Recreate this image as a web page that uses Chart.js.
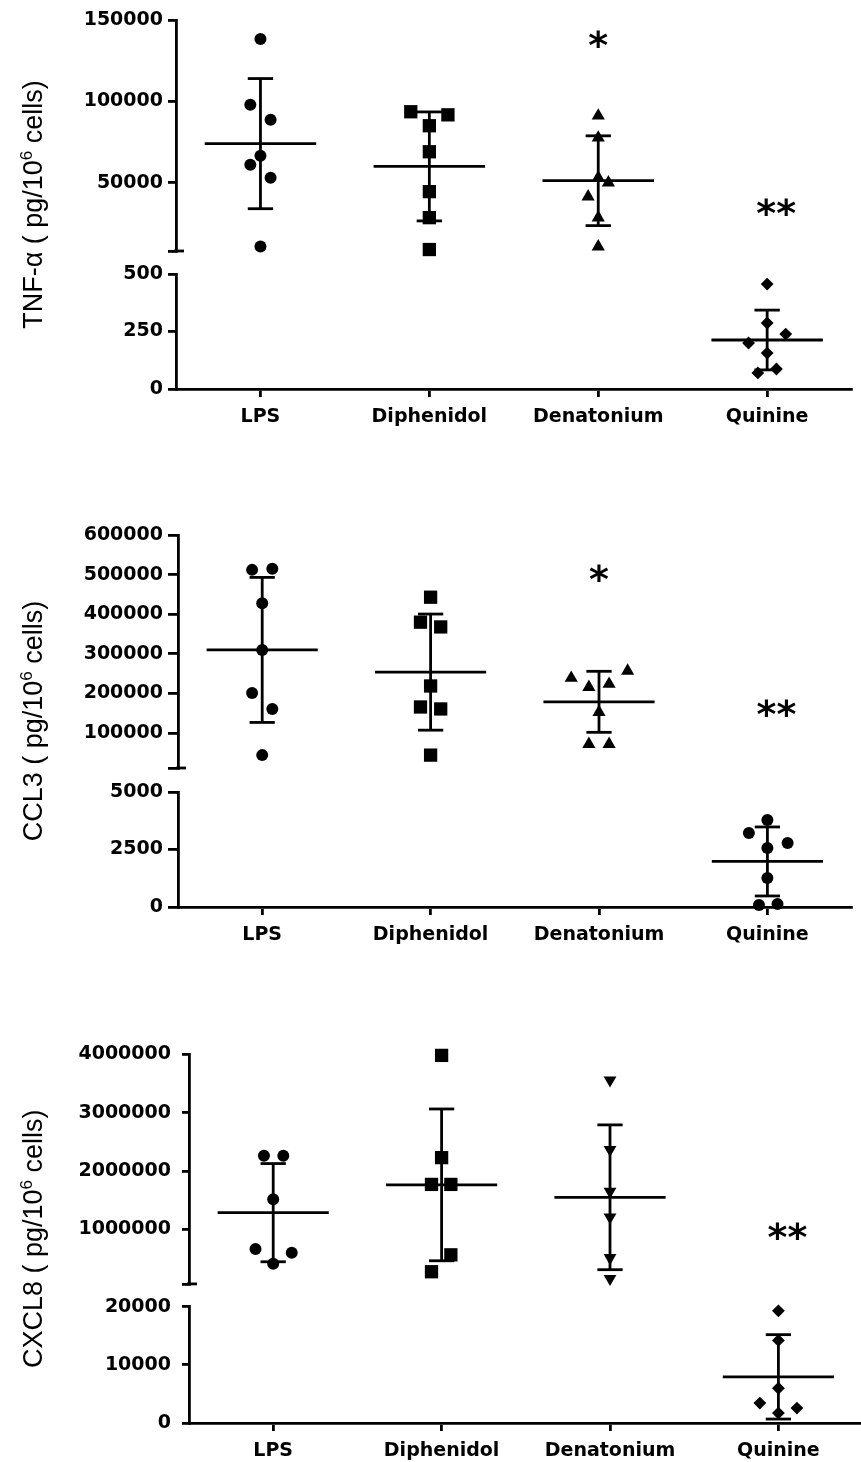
<!DOCTYPE html>
<html>
<head>
<meta charset="utf-8">
<script src="https://cdn.jsdelivr.net/npm/chart.js@4.4.1/dist/chart.umd.min.js"></script>
<style>
html, body { margin: 0; padding: 0; background: #fff; overflow: hidden; width: 861px; height: 1462px; }
.panel { position: absolute; left: 0; width: 861px; overflow: hidden; }
canvas { display: block; }
</style>
</head>
<body>
<div class="panel" style="top:0px;height:440px"><canvas id="c1" width="861" height="440"></canvas></div>
<div class="panel" style="top:515px;height:443px"><canvas id="c2" width="861" height="443"></canvas></div>
<div class="panel" style="top:1032px;height:430px"><canvas id="c3" width="872" height="442"></canvas></div>
<script>
// ---------- shared ----------
const categories = ['LPS', 'Diphenidol', 'Denatonium', 'Quinine'];

// ---------- Panel 1: TNF-alpha ----------
const tnfTitle = ['TNF-α ( pg/10', '6', ' cells)'];
const tnfLPS = [138300, 97900, 88700, 66600, 61000, 53100, 10700];
const tnfDiphenidol = [93600, 91700, 85000, 69000, 44500, 28500, 8900];
const tnfDenatonium = [91100, 77600, 53100, 50000, 41400, 28500, 10700];
const tnfQuinine = [456, 287, 239, 200, 156, 70, 87];
const tnfJitterLPS = [0, -0.06, 0.06, 0, -0.06, 0.06, 0];
const tnfJitterDiphenidol = [-0.11, 0.11, 0, 0, 0, 0, 0];
const tnfJitterDenatonium = [0, 0, 0, 0.06, -0.06, 0, 0];
const tnfJitterQuinine = [0, 0, 0.11, -0.11, 0, -0.055, 0.055];
const tnfMeans = [74000, 60000, 51200, 213];
const tnfSD = [40000, 33500, 27600, 130];
const tnfUpperRange = [8000, 150000];
const tnfLowerRange = [0, 500];
const tnfUpperTicks = [50000, 100000, 150000];
const tnfLowerTicks = [0, 250, 500];
const tnfSigText = ['', '', '*', '**'];
const tnfSigY = [null, null, 138300, 35300];

// ---------- Panel 2: CCL3 ----------
const ccl3Title = ['CCL3 ( pg/10', '6', ' cells)'];
const ccl3LPS = [512000, 515000, 428000, 310000, 201000, 160600, 44500];
const ccl3Diphenidol = [443000, 380000, 368000, 219000, 166000, 161000, 44500];
const ccl3Denatonium = [239000, 216000, 224000, 257000, 153000, 72300, 72300];
const ccl3Quinine = [3783, 3217, 2783, 2565, 1261, 87, 130];
const ccl3JitterLPS = [-0.06, 0.06, 0, 0, -0.06, 0.06, 0];
const ccl3JitterDiphenidol = [0, -0.06, 0.06, 0, -0.06, 0.06, 0];
const ccl3JitterDenatonium = [-0.165, -0.06, 0.06, 0.17, 0, -0.06, 0.06];
const ccl3JitterQuinine = [0, -0.11, 0.12, 0, 0, -0.05, 0.06];
const ccl3Means = [310000, 254000, 179000, 1980];
const ccl3SD = [183000, 146500, 77000, 1500];
const ccl3UpperRange = [12000, 600000];
const ccl3LowerRange = [0, 5000];
const ccl3UpperTicks = [100000, 200000, 300000, 400000, 500000, 600000];
const ccl3LowerTicks = [0, 2500, 5000];
const ccl3SigText = ['', '', '*', '**'];
const ccl3SigY = [null, null, 504000, 163000];

// ---------- Panel 3: CXCL8 ----------
const cxcl8Title = ['CXCL8 ( pg/10', '6', ' cells)'];
const cxcl8LPS = [2262000, 2262000, 1513000, 661000, 593000, 405000];
const cxcl8Diphenidol = [3983000, 2228000, 1768000, 1768000, 559000, 269000];
const cxcl8Denatonium = [3557000, 2364000, 1649000, 1206000, 508000, 150000];
const cxcl8Quinine = [19300, 14200, 5980, 3420, 2560, 1710];
const cxcl8JitterLPS = [-0.055, 0.06, 0, -0.105, 0.11, 0];
const cxcl8JitterDiphenidol = [0, 0, -0.06, 0.055, 0.055, -0.06];
const cxcl8JitterDenatonium = [0, 0, 0, 0, 0, 0];
const cxcl8JitterQuinine = [0, 0, 0, -0.11, 0.11, 0];
const cxcl8Means = [1283000, 1760000, 1547000, 7940];
const cxcl8SD = [843000, 1303000, 1243000, 7260];
const cxcl8UpperRange = [60000, 4000000];
const cxcl8LowerRange = [0, 20000];
const cxcl8UpperTicks = [1000000, 2000000, 3000000, 4000000];
const cxcl8LowerTicks = [0, 10000, 20000];
const cxcl8SigText = ['', '', '', '**'];
const cxcl8SigY = [null, null, null, 968000];

// which axis segment each group sits in
const groupAxis = ['yTop', 'yTop', 'yTop', 'yBot'];

// ---------- styles ----------
const INK = '#000';
const MEAN_HALF = 0.33;
const CAP_HALF = 0.075;
const LINE_W = 2.8;
const TICK_FONT = { family: 'DejaVu Sans', weight: 'bold', size: 19 };
const SIG_FONT = 'bold 38px "DejaVu Sans"';
const SIG_DX = [0, 0, 0, 9];   // px nudge of the significance text
const MARKERS = {
  circle: { style: 'circle', radius: 6, rotation: 0 },
  square: { style: 'rect', radius: 9.4, rotation: 0 },
  triangle: { style: 'triangle', radius: 7.6, rotation: 0 },
  triangleDown: { style: 'triangle', radius: 7.4, rotation: 180 },
  diamond: { style: 'rectRot', radius: 6.4, rotation: 0 }
};

function groupDatasets(values, jitter, mean, sd, idx, axisId, marker) {
  const m = MARKERS[marker];
  const out = [];
  out.push({
    yAxisID: axisId, data: values.map((v, k) => ({ x: idx + jitter[k], y: v })),
    pointStyle: m.style, pointRadius: m.radius, pointRotation: m.rotation,
    pointBackgroundColor: INK, pointBorderColor: INK, pointBorderWidth: 0,
    showLine: false, clip: false
  });
  const seg = (x1, y1, x2, y2) => ({
    yAxisID: axisId, data: [{ x: x1, y: y1 }, { x: x2, y: y2 }],
    showLine: true, borderColor: INK, borderWidth: LINE_W, pointRadius: 0,
    fill: false, clip: false, borderCapStyle: 'butt'
  });
  const hi = mean + sd, lo = mean - sd;
  out.push(seg(idx - MEAN_HALF, mean, idx + MEAN_HALF, mean));
  out.push(seg(idx, lo, idx, hi));
  out.push(seg(idx - CAP_HALF, hi, idx + CAP_HALF, hi));
  out.push(seg(idx - CAP_HALF, lo, idx + CAP_HALF, lo));
  return out;
}

function textPlugin(cfg) {
  return {
    id: 'panelText',
    afterDatasetsDraw(chart) {
      const ctx = chart.ctx;
      const top = chart.scales.yTop, bot = chart.scales.yBot, xs = chart.scales.x;
      // axis-break mark: continue the end tick of the upper segment past the axis line
      ctx.save();
      ctx.strokeStyle = INK;
      ctx.lineWidth = LINE_W;
      ctx.beginPath();
      ctx.moveTo(top.right - 2, top.bottom);
      ctx.lineTo(top.right + 8, top.bottom);
      ctx.stroke();
      ctx.restore();
      // rotated y title spanning both segments
      ctx.save();
      ctx.translate(cfg.titleX, (top.top + bot.bottom) / 2);
      ctx.rotate(-Math.PI / 2);
      ctx.fillStyle = INK;
      ctx.textBaseline = 'alphabetic';
      ctx.textAlign = 'left';
      const mainFont = cfg.titleSize + 'px "Liberation Sans"';
      const supFont = Math.round(cfg.titleSize * 0.62) + 'px "Liberation Sans"';
      const [pre, sup, post] = cfg.title;
      ctx.font = mainFont;
      const w1 = ctx.measureText(pre).width, w3 = ctx.measureText(post).width;
      ctx.font = supFont;
      const w2 = ctx.measureText(sup).width;
      let u = -(w1 + w2 + w3) / 2;
      ctx.font = mainFont; ctx.fillText(pre, u, 0); u += w1;
      ctx.font = supFont; ctx.fillText(sup, u, -cfg.titleSize * 0.36); u += w2;
      ctx.font = mainFont; ctx.fillText(post, u, 0);
      ctx.restore();
      // significance marks
      ctx.save();
      ctx.fillStyle = INK;
      ctx.font = SIG_FONT;
      ctx.textAlign = 'center';
      ctx.textBaseline = 'alphabetic';
      cfg.sigText.forEach((t, i) => {
        if (!t) return;
        const px = xs.getPixelForValue(i) + SIG_DX[i];
        const py = top.getPixelForValue(cfg.sigY[i]);
        const m = ctx.measureText(t);
        ctx.fillText(t, px, py + (m.actualBoundingBoxAscent - m.actualBoundingBoxDescent) / 2);
      });
      ctx.restore();
    }
  };
}

function yAxis(range, ticks, weight, order, cfg, breakTick) {
  return {
    type: 'linear', position: 'left', stack: 'ys', stackWeight: weight, weight: order,
    min: range[0], max: range[1],
    afterBuildTicks: (s) => {
      const list = breakTick ? [range[0]].concat(ticks) : ticks.slice();
      s.ticks = list.map(v => ({ value: v }));
    },
    afterFit: (s) => { s.width = cfg.axisW; },
    ticks: {
      autoSkip: false, color: INK, font: TICK_FONT, padding: cfg.labelPad,
      callback: (v) => (breakTick && v === range[0]) ? '' : String(v)
    },
    grid: { display: true, drawOnChartArea: false, drawTicks: true, tickLength: cfg.tickLen, color: INK, lineWidth: LINE_W },
    border: { display: true, color: INK, width: LINE_W }
  };
}

function makePanel(cfg) {
  let datasets = [];
  cfg.groups.forEach((g, i) => {
    datasets = datasets.concat(groupDatasets(g.values, g.jitter, cfg.means[i], cfg.sd[i], i, groupAxis[i], g.marker));
  });
  new Chart(document.getElementById(cfg.canvas), {
    type: 'scatter',
    data: { datasets },
    options: {
      responsive: false, animation: false, devicePixelRatio: 1,
      layout: { padding: cfg.padding },
      plugins: { legend: { display: false }, tooltip: { enabled: false } },
      scales: {
        x: {
          type: 'linear', position: 'bottom', min: -0.5, max: 3.5,
          afterBuildTicks: (s) => { s.ticks = categories.map((c, i) => ({ value: i })); },
          afterFit: (s) => { s.height = 45; },
          ticks: { autoSkip: false, maxRotation: 0, color: INK, font: TICK_FONT, padding: 9,
                   callback: (v) => categories[v] },
          grid: { display: true, drawOnChartArea: false, drawTicks: true, tickLength: 8, color: INK, lineWidth: LINE_W },
          border: { display: true, color: INK, width: LINE_W }
        },
        yTop: yAxis(cfg.upperRange, cfg.upperTicks, cfg.weights[0], 3, cfg, true),
        yGap: {
          type: 'linear', position: 'left', stack: 'ys', stackWeight: cfg.weights[1], weight: 2,
          min: 0, max: 1,
          afterFit: (s) => { s.width = cfg.axisW; },
          ticks: { display: false }, grid: { display: false }, border: { display: false }
        },
        yBot: yAxis(cfg.lowerRange, cfg.lowerTicks, cfg.weights[2], 1, cfg, false)
      }
    },
    plugins: [textPlugin(cfg)]
  });
}

makePanel({
  canvas: 'c1', axisW: 176, tickLen: 8, labelPad: 5,
  weights: [231, 23, 115], padding: { top: 20, right: 7, bottom: 6, left: 0 },
  title: tnfTitle, titleX: 42, titleSize: 27,
  groups: [
    { values: tnfLPS, jitter: tnfJitterLPS, marker: 'circle' },
    { values: tnfDiphenidol, jitter: tnfJitterDiphenidol, marker: 'square' },
    { values: tnfDenatonium, jitter: tnfJitterDenatonium, marker: 'triangle' },
    { values: tnfQuinine, jitter: tnfJitterQuinine, marker: 'diamond' }
  ],
  means: tnfMeans, sd: tnfSD,
  upperRange: tnfUpperRange, lowerRange: tnfLowerRange,
  upperTicks: tnfUpperTicks, lowerTicks: tnfLowerTicks,
  sigText: tnfSigText, sigY: tnfSigY
});

makePanel({
  canvas: 'c2', axisW: 178, tickLen: 10, labelPad: 5,
  weights: [233, 24, 115], padding: { top: 20, right: 3, bottom: 6, left: 0 },
  title: ccl3Title, titleX: 42, titleSize: 27,
  groups: [
    { values: ccl3LPS, jitter: ccl3JitterLPS, marker: 'circle' },
    { values: ccl3Diphenidol, jitter: ccl3JitterDiphenidol, marker: 'square' },
    { values: ccl3Denatonium, jitter: ccl3JitterDenatonium, marker: 'triangle' },
    { values: ccl3Quinine, jitter: ccl3JitterQuinine, marker: 'circle' }
  ],
  means: ccl3Means, sd: ccl3SD,
  upperRange: ccl3UpperRange, lowerRange: ccl3LowerRange,
  upperTicks: ccl3UpperTicks, lowerTicks: ccl3LowerTicks,
  sigText: ccl3SigText, sigY: ccl3SigY
});

makePanel({
  canvas: 'c3', axisW: 189, tickLen: 7, labelPad: 11,
  weights: [231, 23, 117], padding: { top: 20, right: 0, bottom: 6, left: 0 },
  title: cxcl8Title, titleX: 42, titleSize: 27,
  groups: [
    { values: cxcl8LPS, jitter: cxcl8JitterLPS, marker: 'circle' },
    { values: cxcl8Diphenidol, jitter: cxcl8JitterDiphenidol, marker: 'square' },
    { values: cxcl8Denatonium, jitter: cxcl8JitterDenatonium, marker: 'triangleDown' },
    { values: cxcl8Quinine, jitter: cxcl8JitterQuinine, marker: 'diamond' }
  ],
  means: cxcl8Means, sd: cxcl8SD,
  upperRange: cxcl8UpperRange, lowerRange: cxcl8LowerRange,
  upperTicks: cxcl8UpperTicks, lowerTicks: cxcl8LowerTicks,
  sigText: cxcl8SigText, sigY: cxcl8SigY
});
</script>
</body>
</html>
